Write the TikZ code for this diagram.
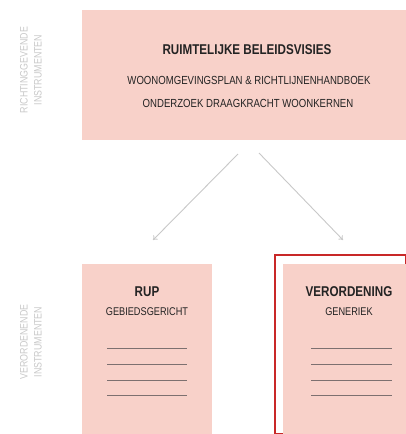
\documentclass[tikz,border=0pt]{standalone}
\usepackage{fontspec}
\setmainfont[FakeStretch=0.82]{Liberation Sans}
\usepackage{tikz}
\usetikzlibrary{arrows.meta}
\usepackage{xcolor}
\definecolor{roze}{RGB}{248,209,201}
\definecolor{donkerrood}{RGB}{200,40,40}
\definecolor{lichtgrijs}{RGB}{200,200,200}
\definecolor{tekst}{RGB}{35,35,35}
\definecolor{regel}{RGB}{125,112,112}

\begin{document}
\begin{tikzpicture}[x=1pt,y=-1pt,
    blad/.style={fill=roze,inner sep=0pt},
    titel/.style={text=tekst,font=\bfseries\fontsize{14.2}{16}\selectfont},
    sub/.style={text=tekst,font=\fontsize{11.7}{14}\selectfont},
    klein/.style={text=tekst,font=\fontsize{11.2}{13}\selectfont},
    zijlabel/.style={text=lichtgrijs,rotate=90,align=center,font=\fontsize{10.8}{14}\selectfont},
    pijl/.style={lichtgrijs,line width=0.9pt,-{To[length=4pt,width=6pt]}}]
    \useasboundingbox (0,0) rectangle (406,434);
    % bovenste blok: richtinggevend
    \node[blad,minimum width=324pt,minimum height=130pt] (visie) at (244,75) {};
    \node[titel] (visietitel) at (247,50) {RUIMTELIJKE BELEIDSVISIES};
    \node[sub] (woon) at (249,80) {WOONOMGEVINGSPLAN \& RICHTLIJNENHANDBOEK};
    \node[sub] (draag) at (248,103) {ONDERZOEK DRAAGKRACHT WOONKERNEN};
    \node[zijlabel] (richt) at (31,70) {RICHTINGGEVENDE\\INSTRUMENTEN};
    % onderste blokken: verordenend
    \node[zijlabel] (veror) at (31,342) {VERORDENENDE\\INSTRUMENTEN};
    \node[blad,minimum width=130pt,minimum height=170pt] (rup) at (147,349) {};
    \node[draw=donkerrood,line width=1.1pt,minimum width=131pt,minimum height=179pt,inner sep=0pt] (kader) at (340.5,344.5) {};
    \node[blad,minimum width=123pt,minimum height=170pt] (veord) at (344.5,349) {};
    \node[titel] (ruptitel) at (147,292) {RUP};
    \node[klein] (rupsub) at (147,312) {GEBIEDSGERICHT};
    \node[titel] (veordtitel) at (349,292) {VERORDENING};
    \node[klein] (veordsub) at (349,312) {GENERIEK};
    \foreach \y in {348,364,380,395}{
      \draw[regel,line width=0.7pt] (107,\y)--(187,\y);
      \draw[regel,line width=0.7pt] (311,\y)--(392,\y);
    }
    % pijlen
    \coordinate (startL) at (238,154);
    \coordinate (startR) at (259,153);
    \coordinate (eindL) at (153,240);
    \coordinate (eindR) at (343,240);
    \draw[pijl] (startL)--(eindL);
    \draw[pijl] (startR)--(eindR);
  \end{tikzpicture}
\end{document}
